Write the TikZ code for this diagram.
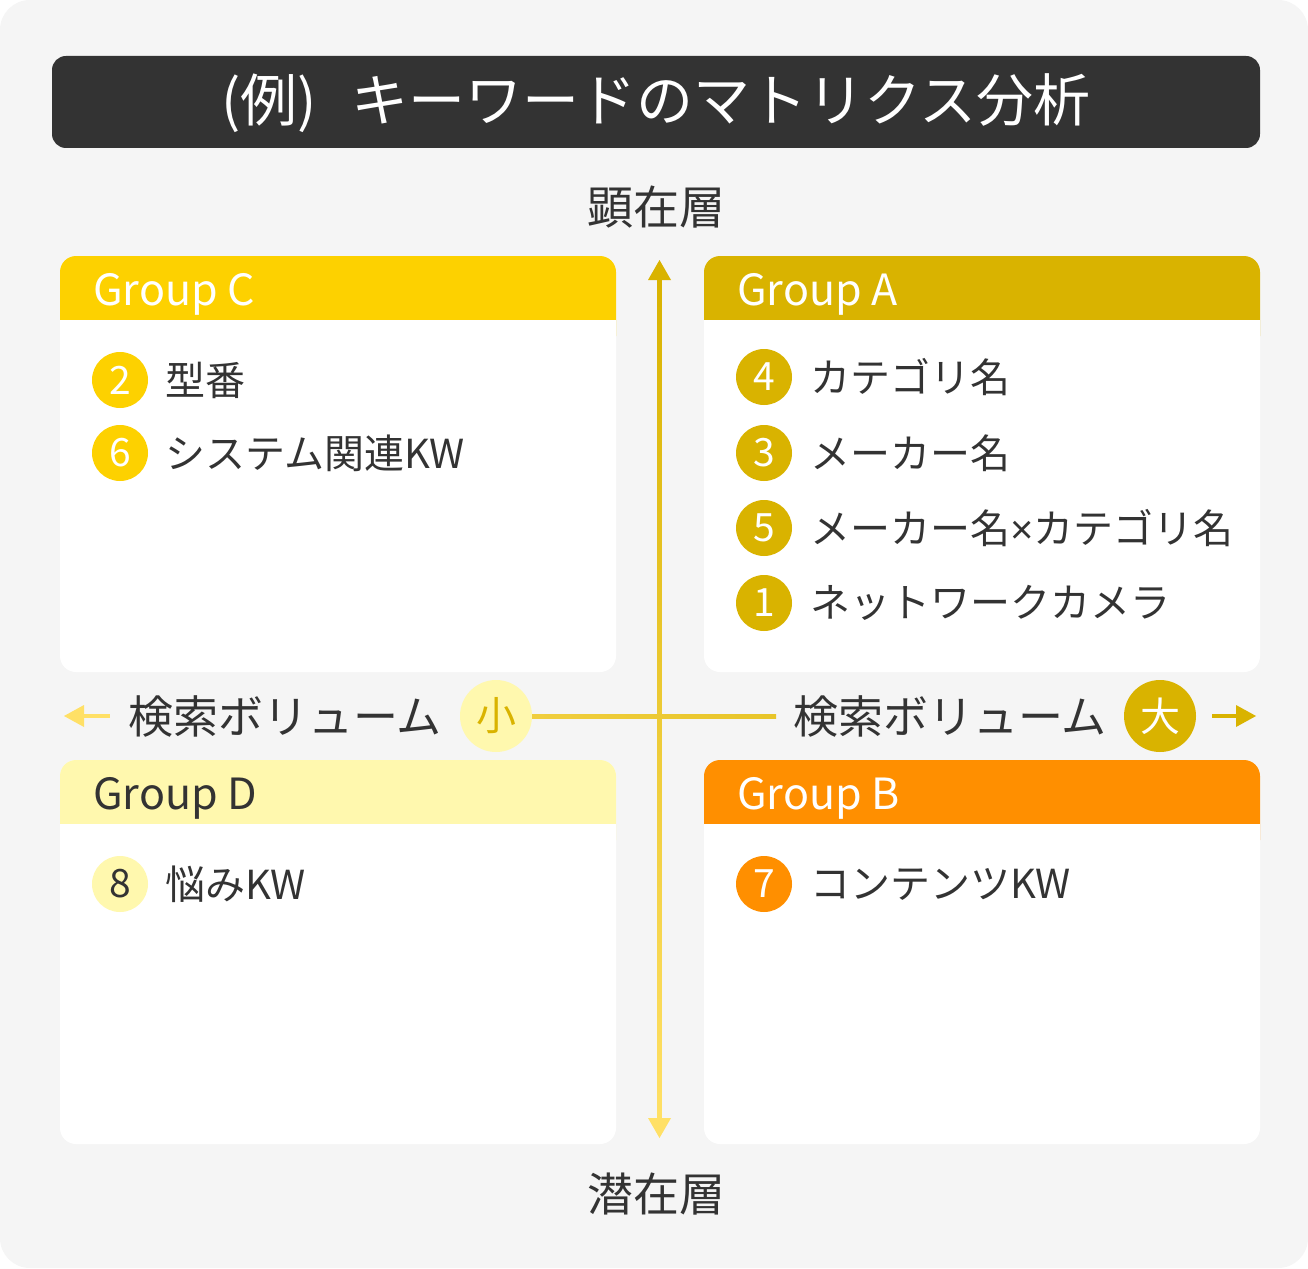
\documentclass[tikz,border=0pt]{standalone}
\usepackage{fontspec}
\setmainfont{Noto Sans CJK JP}
\newfontfamily\latfont{Liberation Sans}
\definecolor{bg}{HTML}{F5F5F5}
\definecolor{titlebg}{HTML}{333333}
\definecolor{txt}{HTML}{333333}
\definecolor{gA}{HTML}{D9B300}
\definecolor{gC}{HTML}{FDD100}
\definecolor{gB}{HTML}{FF8F00}
\definecolor{gD}{HTML}{FFF8AE}
\definecolor{axL}{HTML}{FFE066}
\definecolor{axM1}{RGB}{240,206,62}
\definecolor{axM2}{RGB}{232,197,41}
\tikzset{
  numc/.style={circle, minimum size=56pt, inner sep=0pt, font=\fontsize{39}{40}\selectfont},
  item/.style={anchor=west, inner sep=0pt, text=txt, font=\fontsize{40}{44}\selectfont},
  hdr/.style={anchor=base west, inner sep=0pt, font=\fontsize{43}{46}\selectfont},
  axlabel/.style={anchor=west, inner sep=0pt, text=txt, font=\fontsize{45}{48}\selectfont},
  layer/.style={inner sep=0pt, text=txt, font=\fontsize{46}{50}\selectfont},
  volc/.style={circle, minimum size=72pt, inner sep=0pt, font=\fontsize{40}{44}\selectfont},
}
\begin{document}
\begin{tikzpicture}[x=1pt,y=-1pt]
\useasboundingbox (0,0) rectangle (1308,1268);
\fill[white] (0,0) rectangle (1308,1268);
\fill[bg, rounded corners=30pt] (0,0) rectangle (1308,1268);
% title
\fill[titlebg, rounded corners=14pt] (52,56) rectangle (1260,148);
\node[inner sep=0pt, text=white, font=\fontsize{57}{62}\selectfont] (title) at (656,103) {(例)\hspace{34pt}キーワードのマトリクス分析};
% layer labels
\node[layer] (top) at (656,207) {顕在層};
\node[layer] (bottom) at (656,1194) {潜在層};
% boxes
\foreach \x/\y/\yb/\c in {60/256/672/gC, 704/256/672/gA, 60/760/1144/gD, 704/760/1144/gB}{
  \fill[white, rounded corners=16pt] (\x,\y) rectangle ({\x+556},\yb);
  \fill[\c, rounded corners=16pt] (\x,\y) rectangle ({\x+556},{\y+96});
  \fill[white] (\x,{\y+64}) rectangle ({\x+556},{\y+97});
}
\node[hdr, text=white] (hC) at (93,305) {Group C};
\node[hdr, text=white] (hA) at (737,305) {Group A};
\node[hdr, text=txt] (hD) at (93,809) {Group D};
\node[hdr, text=white] (hB) at (737,809) {Group B};
% vertical axis
\coordinate (vtop) at (659.5,260);
\coordinate (vbot) at (659.5,1138);
\shade[top color=gA, bottom color=axL] (657.5,278) rectangle (661.5,1120);
\fill[gA] (vtop) -- ++(-11.5,20) -- ++(23,0) -- cycle;
\fill[axL] (vbot) -- ++(-11.5,-20) -- ++(23,0) -- cycle;
% horizontal axis
\coordinate (hleft) at (64,716);
\coordinate (hright) at (1256,716);
\fill[axL] (hleft) -- ++(20,-11) -- ++(0,22) -- cycle;
\fill[axL] (83,714) rectangle (110,718);
\fill[gA] (hright) -- ++(-20,-11) -- ++(0,22) -- cycle;
\fill[gA] (1212,714) rectangle (1237,718);
\shade[left color=axM1, right color=axM2] (530,714) rectangle (776,718);
\node[axlabel] (volL) at (128,716) {検索ボリューム};
\node[volc, fill=gD, text=gA] (small) at (496,716) {小};
\node[axlabel] (volR) at (793,716) {検索ボリューム};
\node[volc, fill=gA, text=white] (large) at (1160,716) {大};
% Group C items
\node[numc, fill=gC, text=white] (n2) at (120,380) {2};
\node[item] (t2) at (165,380) {型番};
\node[numc, fill=gC, text=white] (n6) at (120,453) {6};
\node[item] (t6) at (165,453) {システム関連KW};
% Group A items
\node[numc, fill=gA, text=white] (n4) at (764,377) {4};
\node[item] (t4) at (810,377) {カテゴリ名};
\node[numc, fill=gA, text=white] (n3) at (764,453) {3};
\node[item] (t3) at (810,453) {メーカー名};
\node[numc, fill=gA, text=white] (n5) at (764,528) {5};
\node[item] (t5) at (810,528) {メーカー名{\latfont ×}カテゴリ名};
\node[numc, fill=gA, text=white] (n1) at (764,603) {1};
\node[item] (t1) at (810,603) {ネットワークカメラ};
% Group D items
\node[numc, fill=gD, text=txt] (n8) at (120,884) {8};
\node[item] (t8) at (165,884) {悩みKW};
% Group B items
\node[numc, fill=gB, text=white] (n7) at (764,884) {7};
\node[item] (t7) at (810,884) {コンテンツKW};
\end{tikzpicture}
\end{document}
